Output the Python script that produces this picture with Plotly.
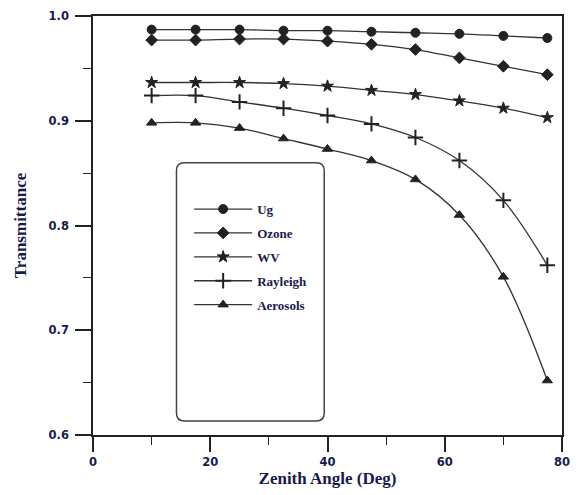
import plotly.graph_objects as go

zenith = [10, 17.5, 25, 32.5, 40, 47.5, 55, 62.5, 70, 77.5]
ug = [0.987, 0.987, 0.987, 0.986, 0.986, 0.985, 0.984, 0.983, 0.981, 0.979]
ozone = [0.977, 0.977, 0.978, 0.978, 0.976, 0.973, 0.968, 0.960, 0.952, 0.944]
wv = [0.9365, 0.9365, 0.9365, 0.9355, 0.933, 0.929, 0.925, 0.919, 0.912, 0.903]
rayleigh = [0.924, 0.924, 0.918, 0.912, 0.905, 0.897, 0.884, 0.862, 0.824, 0.762]
aerosols = [0.898, 0.898, 0.893, 0.883, 0.873, 0.862, 0.844, 0.810, 0.751, 0.652]

series = [
    ("Ug", ug, "circle", 9, 1),
    ("Ozone", ozone, "diamond", 9, 1),
    ("WV", wv, "star", 9, 1),
    ("Rayleigh", rayleigh, "cross-thin", 11, 2),
    ("Aerosols", aerosols, "triangle-up", 9, 1),
]

ink = "#222222"
fig = go.Figure()
for i, (name, vals, sym, size, lw) in enumerate(series):
    fig.add_trace(go.Scatter(
        x=zenith, y=vals, name=name, mode="lines+markers",
        legendgroup=f"g{i}",
        line=dict(color="#333333", width=1.3, shape="spline", smoothing=1),
        marker=dict(symbol=sym, size=size, color=ink,
                    line=dict(color=ink, width=lw)),
    ))

# rounded legend frame (paper coordinates)
x0, x1, y0, y1 = 0.178, 0.493, 0.0333, 0.65
rx, ry = 0.017, 0.019
path = (f"M {x0+rx},{y1} L {x1-rx},{y1} Q {x1},{y1} {x1},{y1-ry} "
        f"L {x1},{y0+ry} Q {x1},{y0} {x1-rx},{y0} "
        f"L {x0+rx},{y0} Q {x0},{y0} {x0},{y0+ry} "
        f"L {x0},{y1-ry} Q {x0},{y1} {x0+rx},{y1} Z")
fig.add_shape(type="path", path=path, xref="paper", yref="paper",
              line=dict(color="#444444", width=1.5), fillcolor="rgba(0,0,0,0)")

axis_font = dict(family="DejaVu Sans", size=11.5, color="#1a1a4a", weight="bold")
title_font = dict(family="Liberation Serif", size=17, color="#1a1a4a", weight="bold")
fig.update_layout(
    width=579, height=495,
    margin=dict(l=93, r=9, t=15, b=60),
    paper_bgcolor="white", plot_bgcolor="white",
    showlegend=True,
    legend=dict(x=0.205, y=0.575, xanchor="left", yanchor="top",
                bgcolor="rgba(0,0,0,0)", borderwidth=0,
                tracegroupgap=4, itemwidth=58,
                font=dict(family="Liberation Serif", size=13, color="#1a1a4a", weight="bold")),
    xaxis=dict(range=[0, 80], dtick=20, showgrid=False, zeroline=False,
               showline=True, linecolor=ink, linewidth=1.5, mirror=True,
               ticks="outside", ticklen=15, tickwidth=1.5, tickcolor=ink,
               minor=dict(dtick=10, ticks="outside", ticklen=8, tickcolor=ink, tickwidth=1.2),
               tickfont=axis_font,
               title=dict(text="Zenith Angle (Deg)", standoff=2, font=title_font)),
    yaxis=dict(range=[0.6, 1.0], dtick=0.1, tickformat=".1f", showgrid=False, zeroline=False,
               showline=True, linecolor=ink, linewidth=1.5, mirror=True,
               ticks="outside", ticklen=16, tickwidth=1.5, tickcolor=ink,
               ticklabelstandoff=4,
               minor=dict(dtick=0.05, ticks="outside", ticklen=8, tickcolor=ink, tickwidth=1.2),
               tickfont=axis_font,
               title=dict(text="Transmittance", standoff=18, font=title_font)),
)

fig.write_html("out.html")
